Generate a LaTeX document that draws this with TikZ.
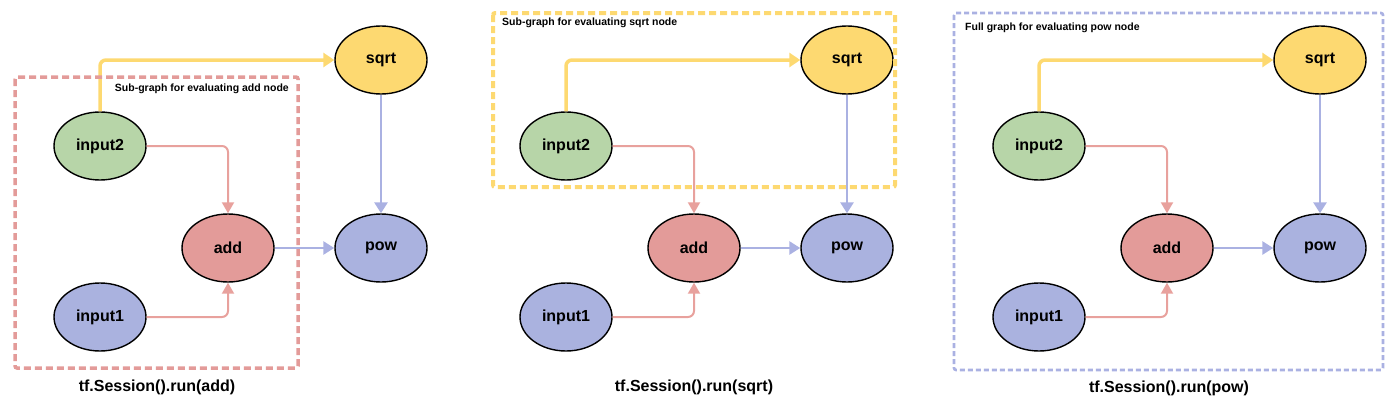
\documentclass[tikz,border=0pt]{standalone}
\usepackage{fontspec}
\setmainfont{Liberation Sans}
\usetikzlibrary{arrows.meta,shapes.geometric}
\definecolor{sqrtyel}{HTML}{FDD971}
\definecolor{ingrn}{HTML}{B7D5A8}
\definecolor{addred}{HTML}{E39B99}
\definecolor{powblu}{HTML}{AAB2DF}
\definecolor{redline}{HTML}{E8A19D}
\definecolor{bluline}{HTML}{AAB1E2}
\tikzset{
	opnode/.style={ellipse, draw=black, line width=1.4pt, minimum width=92pt, minimum height=68pt, inner sep=0pt, font=\fontsize{16}{18}\selectfont\bfseries},
	yelarrow/.style={draw=sqrtyel, line width=3.5pt, rounded corners=6pt, -{Triangle[width=14pt,length=11pt]}},
	redarrow/.style={draw=redline, line width=2pt, rounded corners=6pt, -{Triangle[width=12pt,length=11pt]}},
	bluarrow/.style={draw=bluline, line width=2.8pt, -{Triangle[width=13pt,length=11pt]}},
	boxlabel/.style={font=\fontsize{10.5}{12}\selectfont\bfseries, inner sep=0pt},
	caption/.style={font=\fontsize{16}{18}\selectfont\bfseries}
}
% #1 = x of the input column, #2 = suffix of the node names
\def\opgraph#1#2{
	\node[opnode, fill=sqrtyel] (sqrt#2) at (#1+281, 60) {sqrt};
	\node[opnode, fill=ingrn] (input2#2) at (#1, 146) {input2};
	\node[opnode, fill=addred] (add#2) at (#1+128, 248) {add};
	\node[opnode, fill=powblu] (pow#2) at (#1+281, 248) {pow};
	\node[opnode, fill=powblu] (input1#2) at (#1, 317) {input1};
	\draw[yelarrow] (input2#2.north) |- (sqrt#2.west);
	\draw[redarrow] (input2#2.east) -| (add#2.north);
	\draw[redarrow] (input1#2.east) -| (add#2.south);
	\draw[bluarrow] (add#2) -- (pow#2);
	\draw[bluarrow] (sqrt#2) -- (pow#2);
}

\begin{document}
\begin{tikzpicture}[x=1pt, y=-1pt]
		\useasboundingbox (0, 0) rectangle (1400, 407);
		
		%%%%% add %%%%%
		\opgraph{100}{a}
		\draw[draw=addred, line width=3.5pt, dash pattern=on 7pt off 4pt, rounded corners=2pt] (15, 77) rectangle (298, 368);
		\node[boxlabel, anchor=east] (lbla) at (289, 89) {Sub-graph for evaluating add node};
		\node[caption] (capa) at (157, 387) {tf.Session().run(add)};
		
		%%%%% sqrt %%%%%
		\opgraph{566}{b}
		\draw[draw=sqrtyel, line width=4pt, dash pattern=on 7pt off 4pt, rounded corners=2pt] (493, 13) rectangle (895, 187);
		\node[boxlabel, anchor=west] (lblb) at (502, 23) {Sub-graph for evaluating sqrt node};
		\node[caption] (capb) at (694, 387) {tf.Session().run(sqrt)};
		
		%%%%% pow %%%%%
		\opgraph{1039}{c}
		\draw[draw=bluline, line width=2.6pt, dash pattern=on 5pt off 3pt, rounded corners=2pt] (954, 13) rectangle (1383, 370);
		\node[boxlabel, anchor=west] (lblc) at (965, 28) {Full graph for evaluating pow node};
		\node[caption] (capc) at (1169, 388) {tf.Session().run(pow)};
		
	\end{tikzpicture}
\end{document}
